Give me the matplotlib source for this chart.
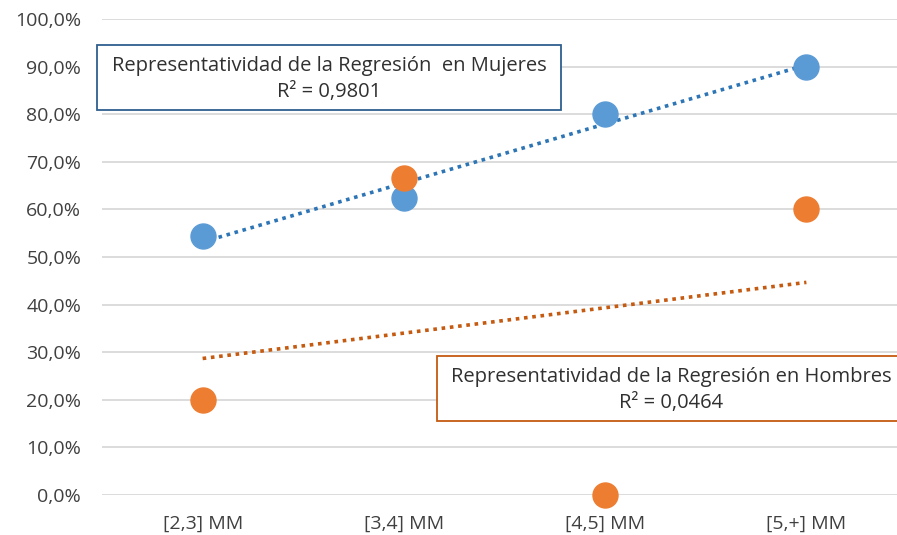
import numpy as np
import matplotlib
matplotlib.use('Agg')
from matplotlib import pyplot as plt
from matplotlib.patches import Rectangle

categories = ['[2,3] MM', '[3,4] MM', '[4,5] MM', '[5,+] MM']
mujeres = [54.5, 62.5, 80.0, 90.0]
hombres = [20.0, 66.7, 0.0, 60.0]
label_mujeres = 'Representatividad de la Regresión  en Mujeres\nR² = 0,9801'
label_hombres = 'Representatividad de la Regresión en Hombres\nR² = 0,0464'

plt.rcParams['font.family'] = ['Open Sans', 'DejaVu Sans']

W, H = 897, 535
fig = plt.figure(figsize=(W / 100, H / 100), dpi=100)
# plot area runs a bit past the right edge of the picture
ax = fig.add_axes([102 / W, 1 - 495 / H, (907 - 102) / W, (495 - 19) / H])

x = np.arange(1, len(categories) + 1)

# trendlines (linear fit)
for vals, col in [(mujeres, '#2E75B6'), (hombres, '#C55A11')]:
    m, b = np.polyfit(x, vals, 1)
    ax.plot(x, m * x + b, color=col, linestyle=(0, (1, 1.3)), linewidth=2.6, zorder=2)

ax.plot(x, mujeres, 'o', color='#5B9BD5', markersize=18, markeredgecolor='#5B9BD5',
        clip_on=False, zorder=3)
ax.plot(x, hombres, 'o', color='#ED7D31', markersize=18, markeredgecolor='#ED7D31',
        clip_on=False, zorder=4)

ax.set_xlim(0.5, 4.5)
ax.set_ylim(0, 100)
ax.set_yticks(np.arange(0, 101, 10))
ax.set_yticklabels([f'{v:.1f}%'.replace('.', ',') for v in np.arange(0, 101, 10)])
ax.set_xticks(x)
ax.set_xticklabels(categories)
ax.tick_params(length=0, labelsize=14, labelcolor='#404040', pad=15)
ax.tick_params(axis='x', pad=14)
ax.grid(axis='y', color='#D9D9D9', linewidth=1.3)
ax.set_axisbelow(True)
for s in ax.spines.values():
    s.set_visible(False)

def box(x0, y0, x1, y1, edge, text, tx, ty):
    fig.patches.append(Rectangle((x0 / W, 1 - y1 / H), (x1 - x0) / W, (y1 - y0) / H,
                                 transform=fig.transFigure, facecolor='white',
                                 edgecolor=edge, linewidth=1.3, zorder=5))
    fig.text(tx / W, 1 - ty / H, text, ha='center', va='center', fontsize=14.5,
             color='#303030', linespacing=1.35, zorder=6)

box(97, 45, 561, 110, '#2F5F8F', label_mujeres, 329, 79)
box(437, 356, 910, 421, '#C55A11', label_hombres, 671, 390)

fig.savefig('out.png', dpi=100)
